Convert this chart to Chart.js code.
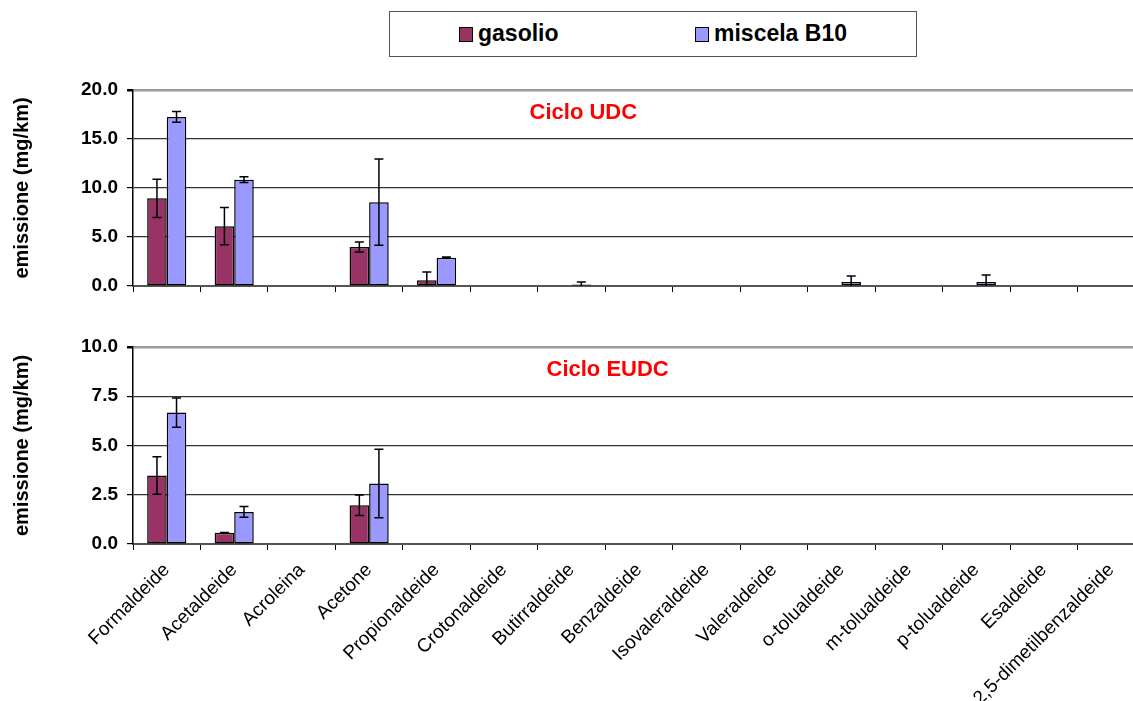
<!DOCTYPE html>
<html>
<head>
<meta charset="utf-8">
<script src="https://cdn.jsdelivr.net/npm/chart.js@4.4.0/dist/chart.umd.min.js"></script>
<style>
html, body { margin: 0; padding: 0; background: #fff; overflow: hidden; }
body { width: 1133px; height: 701px; position: relative; font-family: Arial, "Liberation Sans", sans-serif; }
#legend { position: absolute; left: 389px; top: 11px; width: 528px; height: 46px; border: 1.5px solid #555; box-sizing: border-box; }
#legend .item { position: absolute; top: 7px; font-weight: bold; font-size: 23px; line-height: 28px; color: #000; white-space: nowrap; }
#legend .swatch { display: inline-block; width: 12px; height: 13px; border: 1.5px solid #000; margin-right: 5px; vertical-align: -1px; }
#topChart { position: absolute; left: 0; top: 0; }
#bottomChart { position: absolute; left: 0; top: 300px; }
</style>
</head>
<body>
<div id="legend"></div>
<canvas id="topChart" width="1146" height="320"></canvas>
<canvas id="bottomChart" width="1146" height="401"></canvas>
<script>
const categories = ['Formaldeide', 'Acetaldeide', 'Acroleina', 'Acetone', 'Propionaldeide',
    'Crotonaldeide', 'Butirraldeide', 'Benzaldeide', 'Isovaleraldeide', 'Valeraldeide',
    'o-tolualdeide', 'm-tolualdeide', 'p-tolualdeide', 'Esaldeide', '2,5-dimetilbenzaldeide']

const seriesNames = ['gasolio', 'miscela B10']
const seriesColors = ['#993366', '#9999FF']

// Ciclo UDC
const udcGasolio    = [8.95, 6.1, 0, 3.98, 0.58, 0, 0, 0, 0, 0, 0, 0, 0, 0, 0]
const udcGasolioErr = [1.95, 1.9, 0, 0.5, 0.85, 0, 0, 0, 0, 0, 0, 0, 0, 0, 0]
const udcB10        = [17.25, 10.85, 0, 8.55, 2.89, 0, 0.15, 0, 0, 0, 0.4, 0, 0.4, 0, 0]
const udcB10Err     = [0.55, 0.3, 0, 4.4, 0.06, 0, 0.25, 0, 0, 0, 0.62, 0, 0.72, 0, 0]

// Ciclo EUDC
const eudcGasolio    = [3.48, 0.57, 0, 1.97, 0, 0, 0, 0, 0, 0, 0, 0, 0, 0, 0]
const eudcGasolioErr = [0.95, 0.02, 0, 0.52, 0, 0, 0, 0, 0, 0, 0, 0, 0, 0, 0]
const eudcB10        = [6.67, 1.63, 0, 3.07, 0, 0, 0, 0, 0, 0, 0, 0, 0, 0, 0]
const eudcB10Err     = [0.74, 0.27, 0, 1.74, 0, 0, 0, 0, 0, 0, 0, 0, 0, 0, 0]

const udcTicks = { max: 20, step: 5 }
const eudcTicks = { max: 10, step: 2.5 }

const FONT = 'Arial, "Liberation Sans", sans-serif'

// legend built from the series
const legendEl = document.getElementById('legend')
const legendX = [69, 305]
seriesNames.forEach(function(name, i){
    const item = document.createElement('div')
    item.className = 'item'
    item.style.left = legendX[i] + 'px'
    item.innerHTML = '<span class="swatch" style="background:' + seriesColors[i] + '"></span>' + name
    legendEl.appendChild(item)
})

const errorBars = {
    id: 'errorBars',
    afterDatasetsDraw(chart) {
        const ctx = chart.ctx
        const y = chart.scales.y
        ctx.save()
        ctx.strokeStyle = '#000'
        ctx.lineWidth = 1.5
        chart.data.datasets.forEach(function(ds, i){
            const meta = chart.getDatasetMeta(i)
            meta.data.forEach(function(bar, j){
                const e = ds.errors[j]
                if (!e) return
                const v = ds.data[j]
                const yt = y.getPixelForValue(v + e)
                const yb = y.getPixelForValue(Math.max(v - e, 0))
                const x = bar.x
                ctx.beginPath()
                ctx.moveTo(x, yt); ctx.lineTo(x, yb)
                ctx.moveTo(x - 4.5, yt); ctx.lineTo(x + 4.5, yt)
                if (v - e > 0) { ctx.moveTo(x - 4.5, yb); ctx.lineTo(x + 4.5, yb) }
                ctx.stroke()
            })
        })
        ctx.restore()
    }
}

const panelTitle = {
    id: 'panelTitle',
    afterDraw(chart, args, opts) {
        const ctx = chart.ctx
        const a = chart.chartArea
        ctx.save()
        ctx.fillStyle = '#FF0000'
        ctx.font = 'bold 22px ' + FONT
        ctx.textAlign = 'center'
        ctx.textBaseline = 'middle'
        ctx.fillText(opts.text, a.left + opts.pos * (a.right - a.left), a.top + 23)
        ctx.restore()
    }
}

function dataset(i, values, errors){
    return {
        label: seriesNames[i],
        data: values,
        errors: errors,
        backgroundColor: seriesColors[i],
        borderColor: '#000',
        borderWidth: 1.5,
        borderSkipped: false,
        categoryPercentage: 0.58,
        barPercentage: 1.0,
    }
}

function makeChart(id, sets, ticks, title, titlePos, showLabels, topPad, xHeight){
    const canvas = document.getElementById(id)
    return new Chart(canvas.getContext('2d'), {
        type: 'bar',
        data: { labels: categories, datasets: sets },
        plugins: [errorBars, panelTitle],
        options: {
            responsive: false,
            animation: false,
            layout: { padding: { top: topPad, right: 1, left: 0, bottom: 0 } },
            plugins: {
                legend: { display: false },
                tooltip: { enabled: false },
                panelTitle: { text: title, pos: titlePos },
            },
            scales: {
                x: {
                    grid: { drawOnChartArea: false, drawTicks: true, tickLength: 6, color: '#000', lineWidth: 1 },
                    border: { color: '#555', width: 2 },
                    ticks: {
                        display: showLabels,
                        autoSkip: false,
                        minRotation: 45,
                        maxRotation: 45,
                        padding: 9,
                        color: '#000',
                        font: { family: FONT, size: 19 },
                    },
                    afterFit(scale){ scale.height = xHeight },
                },
                y: {
                    min: 0,
                    max: ticks.max,
                    ticks: {
                        stepSize: ticks.step,
                        padding: 9,
                        color: '#000',
                        font: { family: FONT, size: 19, weight: 'bold' },
                        callback: function(v){ return Number(v).toFixed(1) },
                    },
                    grid: {
                        color: function(c){ return c.tick && c.tick.value === ticks.max ? '#999' : '#333' },
                        lineWidth: function(c){ return c.tick && c.tick.value === ticks.max ? 2.5 : 1.2 },
                        tickLength: 6,
                        tickColor: '#000',
                    },
                    border: { color: '#000', width: 1.5 },
                    title: {
                        display: true,
                        text: 'emissione (mg/km)',
                        color: '#000',
                        font: { family: FONT, size: 20, weight: 'bold' },
                        padding: { top: 10, bottom: 4 },
                    },
                    afterFit(scale){ scale.width = 133 },
                },
            },
        },
    })
}

makeChart('topChart',
    [dataset(0, udcGasolio, udcGasolioErr), dataset(1, udcB10, udcB10Err)],
    udcTicks, 'Ciclo UDC', 0.445, false, 90, 34)

makeChart('bottomChart',
    [dataset(0, eudcGasolio, eudcGasolioErr), dataset(1, eudcB10, eudcB10Err)],
    eudcTicks, 'Ciclo EUDC', 0.469, true, 47, 157)
</script>
</body>
</html>
